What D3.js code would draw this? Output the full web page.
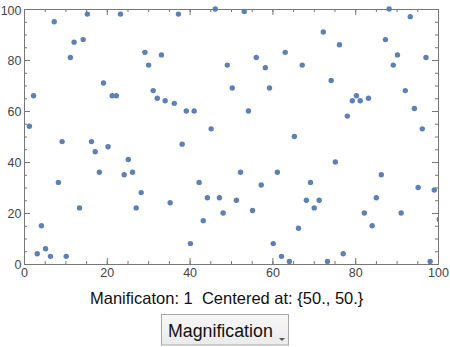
<!DOCTYPE html>
<html><head><meta charset="utf-8">
<script src="https://cdn.jsdelivr.net/npm/d3@7"></script>
<style>
html,body{margin:0;padding:0;background:#fff;}
svg{display:block;}
</style></head>
<body>
<svg id="chart" width="450" height="347"></svg>
<script>
const xValues = [7.3,15.3,23.3,12.1,14.3,11.2,29.2,30.1,2.3,19.2,21.3,22.3,1.3,
 37.3,46.2,53.2,33.2,31.2,32.2,34.1,36.3,39.2,41.1,45.2,49.1,50.3,54.2,56.1,58.3,59.3,63.1,
 88.2,93.3,72.3,76.2,87.3,90.2,97.1,89.2,67.2,74.2,80.3,79.3,81.2,83.2,78.1,92.1,94.3,96.2,65.3,
 9.2,16.3,17.2,20.3,18.2,8.3,25.2,24.2,26.2,28.3,13.4,27.1,4.2,3.2,5.2,6.4,10.2,
 38.2,35.3,42.3,44.3,47.2,43.3,48.1,51.3,52.3,57.3,55.2,61.2,40.2,60.2,62.2,64.1,
 75.2,86.3,69.2,68.2,71.3,70.1,85.1,82.2,91.1,84.1,95.2,99.1,100.3,66.3,73.3,77.1,98.1];
const yValues = [95,98,98,87,88,81,83,78,66,71,66,66,54,
 98,100,99,82,68,65,64,63,60,60,53,78,69,60,81,77,69,83,
 100,97,91,86,88,82,81,78,78,72,66,64,64,65,58,68,61,53,50,
 48,48,44,46,36,32,41,35,36,28,22,22,15,4,6,3,3,
 47,24,32,26,26,17,20,25,36,31,21,36,8,8,3,1,
 40,35,32,25,25,22,26,20,20,15,30,29,17.5,14,1,4,1];
const majorTicks = [0,20,40,60,80,100];
const minorTicks = d3.range(0,101,5);
const caption = "Manificaton: 1  Centered at: {50., 50.}";
const buttonLabel = "Magnification";

const svg = d3.select("#chart");
const L=24, R=438, T=9, B=264;
const x = d3.scaleLinear().domain([0,100]).range([L,R]);
const y = d3.scaleLinear().domain([0,100]).range([B,T]);
const axisColor = "#777";
const labelColor = "#444";

svg.append("defs").append("clipPath").attr("id","clip")
  .append("rect").attr("x",L).attr("y",T-3).attr("width",R-L).attr("height",B-T+3);

svg.append("g").attr("clip-path","url(#clip)")
  .selectAll("circle").data(xValues.map((d,i)=>[d,yValues[i]])).join("circle")
  .attr("cx",d=>x(d[0])).attr("cy",d=>y(d[1])).attr("r",2.7)
  .attr("fill","#5E81B5");

function styleAxis(g){
  g.select(".domain").attr("stroke",axisColor).attr("stroke-width",1);
  g.selectAll(".tick line").attr("stroke",axisColor);
  g.selectAll(".tick text").attr("fill",labelColor)
    .style("font-family","'Liberation Sans', Arial, sans-serif").style("font-size","12.5px");
}
function minor(axis){ return axis.tickValues(minorTicks).tickSize(-3).tickFormat(""); }
function major(axis, labels, pad){ return axis.tickValues(majorTicks).tickSize(-6).tickPadding(pad).tickFormat(labels? d3.format("d") : ""); }

// bottom
svg.append("g").attr("transform",`translate(0,${B})`).call(minor(d3.axisBottom(x))).call(styleAxis);
svg.append("g").attr("transform",`translate(0,${B})`).call(major(d3.axisBottom(x),true,4)).call(styleAxis);
// top
svg.append("g").attr("transform",`translate(0,${T})`).call(minor(d3.axisTop(x))).call(styleAxis);
svg.append("g").attr("transform",`translate(0,${T})`).call(major(d3.axisTop(x),false,4)).call(styleAxis);
// left
svg.append("g").attr("transform",`translate(${L},0)`).call(minor(d3.axisLeft(y))).call(styleAxis);
const leftMajor = svg.append("g").attr("transform",`translate(${L},0)`).call(major(d3.axisLeft(y),true,2.5)).call(styleAxis);
leftMajor.selectAll(".tick text").filter(d=>d===100).attr("dy","0.45em");
// right
svg.append("g").attr("transform",`translate(${R},0)`).call(minor(d3.axisRight(y))).call(styleAxis);
svg.append("g").attr("transform",`translate(${R},0)`).call(major(d3.axisRight(y),false,4)).call(styleAxis);

// caption
svg.append("text").attr("x",90).attr("y",303.5).text(caption)
  .attr("xml:space","preserve").style("white-space","pre")
  .style("font-family","'Liberation Sans', Arial, sans-serif").style("font-size","16.5px").attr("fill","#111");

// button
const grad = svg.select("defs").append("linearGradient").attr("id","btn").attr("x1",0).attr("y1",0).attr("x2",0).attr("y2",1);
grad.append("stop").attr("offset","0%").attr("stop-color","#f7f7f7");
grad.append("stop").attr("offset","100%").attr("stop-color","#ebebeb");
svg.append("rect").attr("x",161.5).attr("y",314.5).attr("width",127).attr("height",30.5)
  .attr("fill","url(#btn)").attr("stroke","#a8a8a8");
svg.append("text").attr("x",168).attr("y",336.5).text(buttonLabel)
  .style("font-family","'Liberation Sans', Arial, sans-serif").style("font-size","17.8px").attr("fill","#111");
svg.append("path").attr("d","M279,338 L285,338 L282,341 Z").attr("fill","#555");
</script>
</body></html>
